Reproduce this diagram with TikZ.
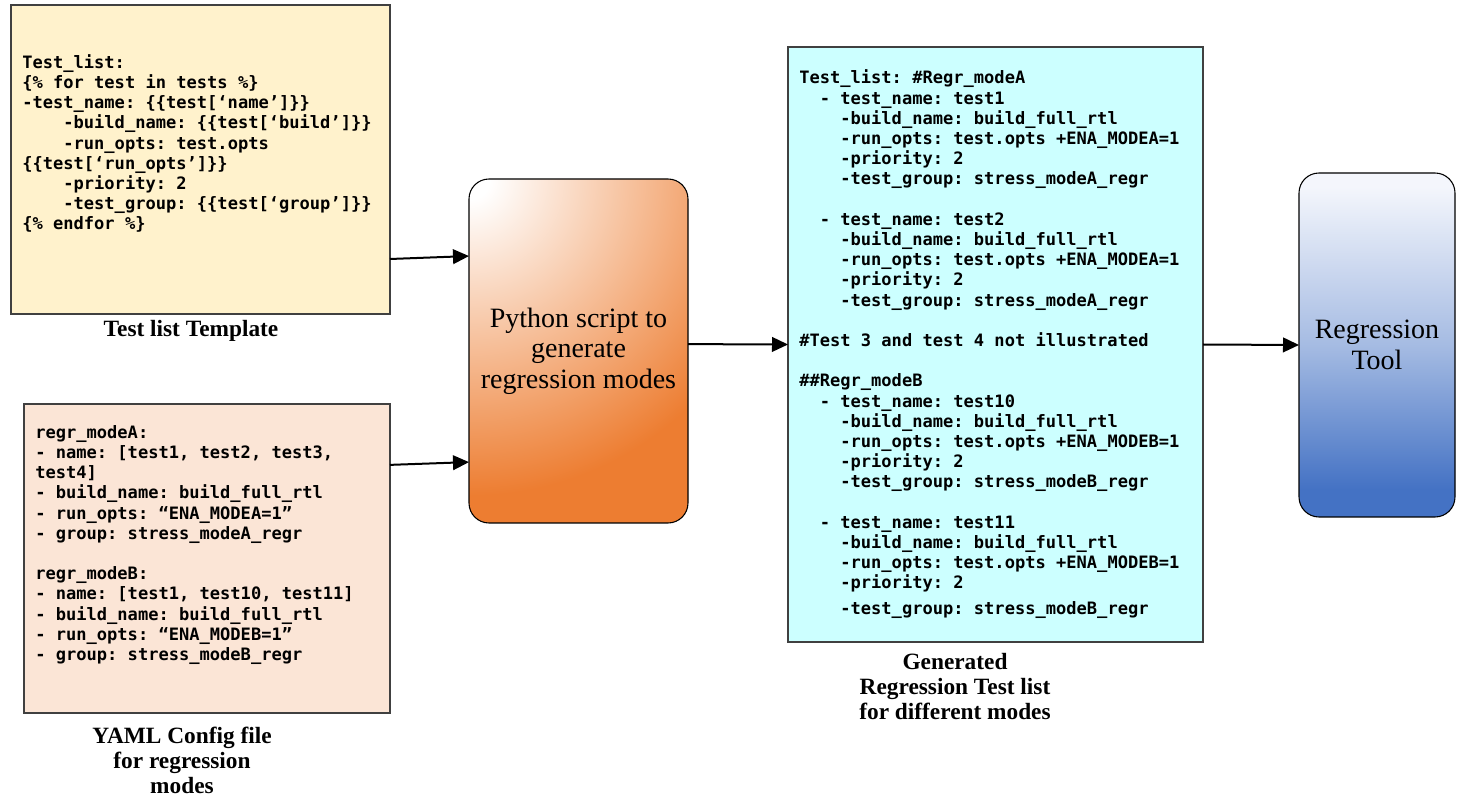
\documentclass[tikz,border=0pt]{standalone}
\usepackage{fontspec}
\setmainfont{Liberation Serif}
\newfontfamily\codefont{DejaVu Sans Mono}
\usetikzlibrary{arrows.meta,calc}
\definecolor{tmplfill}{HTML}{FFF2CC}
\definecolor{yamlfill}{HTML}{FBE5D6}
\definecolor{genfill}{HTML}{CCFFFF}
\definecolor{pyorange}{HTML}{ED7D31}
\definecolor{regblue}{HTML}{4472C4}
\definecolor{regtop}{HTML}{F4F6FC}
\definecolor{boxline}{HTML}{404040}
% the shaded path fills the central 50bp x 50bp square of a shading
\pgfdeclareradialshading{pyshade}{\pgfpoint{0bp}{0bp}}{color(0bp)=(white); color(1.5bp)=(white); color(23bp)=(pyorange); color(100bp)=(pyorange)}
\pgfdeclareverticalshading{regshade}{100bp}{color(0bp)=(regblue); color(29bp)=(regblue); color(50bp)=(regblue!48!white); color(73bp)=(regtop); color(100bp)=(regtop)}
\newcommand{\ind}[1]{\hspace*{#1\fontcharwd\font`\x}}
\begin{document}
\begin{tikzpicture}[x=0.75pt,y=-0.75pt,
  filebox/.style={draw=boxline, line width=0.9pt, inner sep=0pt, outer sep=0pt},
  codetext/.style={anchor=base west, align=left, inner sep=0pt,
    font=\codefont\bfseries\fontsize{12.8}{15.15}\selectfont\frenchspacing},
  caption/.style={anchor=base, align=center, inner sep=0pt,
    font=\bfseries\fontsize{17.5}{18.75}\selectfont},
  procbox/.style={draw=black, line width=0.8pt, rounded corners=15pt, inner sep=0pt,
    outer sep=0pt, align=center, font=\fontsize{21}{23}\selectfont},
  arr/.style={-{Triangle[length=12pt,width=11pt]}, line width=1.5pt}]
\useasboundingbox (0,0) rectangle (1461,798);

% Template box (text anchored at the baseline of its last line)
\node[filebox, fill=tmplfill, minimum width=379*0.75pt, minimum height=309*0.75pt] (tmpl) at (200.5,159.5) {};
\node[codetext] (tmpltxt) at (22,230) {Test\_list:\\
\{\% for test in tests \%\}\\
-test\_name: \{\{test[‘name’]\}\}\\
\ind{4}-build\_name: \{\{test[‘build’]\}\}\\
\ind{4}-run\_opts: test.opts\\
\{\{test[‘run\_opts’]\}\}\\
\ind{4}-priority: 2\\
\ind{4}-test\_group: \{\{test[‘group’]\}\}\\
\{\% endfor \%\}};
\node[caption] (tmplcap) at (191,337) {Test list Template};

% YAML box
\node[filebox, fill=yamlfill, minimum width=366*0.75pt, minimum height=309*0.75pt] (yaml) at (207,558.5) {};
\node[codetext] (yamltxt) at (35,660.5) {regr\_modeA:\\
- name: [test1, test2, test3,\\
test4]\\
- build\_name: build\_full\_rtl\\
- run\_opts: “ENA\_MODEA=1”\\
- group: stress\_modeA\_regr\\[15.15pt]
regr\_modeB:\\
- name: [test1, test10, test11]\\
- build\_name: build\_full\_rtl\\
- run\_opts: “ENA\_MODEB=1”\\
- group: stress\_modeB\_regr};
\node[caption] (yamlcap) at (182,793) {YAML Config file\\for regression\\modes};

% Python box: glow centred on its top-left corner
\node[procbox, minimum width=219*0.75pt, minimum height=344*0.75pt,
  path picture={\shade[shading=pyshade]
    ([shift={(-344,-344)}]path picture bounding box.north west) rectangle
    ([shift={(344,344)}]path picture bounding box.north west);}] (py) at (578.5,351)
  {Python script to\\generate\\regression modes};

% Generated box
\node[filebox, fill=genfill, minimum width=415*0.75pt, minimum height=595*0.75pt] (gen) at (995.5,344.5) {};
\node[codetext] (gentxt) at (799,614.5) {Test\_list: \#Regr\_modeA\\
\ind{2}- test\_name: test1\\
\ind{4}-build\_name: build\_full\_rtl\\
\ind{4}-run\_opts: test.opts +ENA\_MODEA=1\\
\ind{4}-priority: 2\\
\ind{4}-test\_group: stress\_modeA\_regr\\[15.15pt]
\ind{2}- test\_name: test2\\
\ind{4}-build\_name: build\_full\_rtl\\
\ind{4}-run\_opts: test.opts +ENA\_MODEA=1\\
\ind{4}-priority: 2\\
\ind{4}-test\_group: stress\_modeA\_regr\\[15.15pt]
\#Test 3 and test 4 not illustrated\\[15.15pt]
\#\#Regr\_modeB\\
\ind{2}- test\_name: test10\\
\ind{4}-build\_name: build\_full\_rtl\\
\ind{4}-run\_opts: test.opts +ENA\_MODEB=1\\
\ind{4}-priority: 2\\
\ind{4}-test\_group: stress\_modeB\_regr\\[15.15pt]
\ind{2}- test\_name: test11\\
\ind{4}-build\_name: build\_full\_rtl\\
\ind{4}-run\_opts: test.opts +ENA\_MODEB=1\\
\ind{4}-priority: 2\\[4pt]
\ind{4}-test\_group: stress\_modeB\_regr};
\node[caption] (gencap) at (955,719) {Generated\\Regression Test list\\for different modes};

% Regression tool
\node[procbox, shading=regshade, minimum width=156*0.75pt, minimum height=344*0.75pt] (reg) at (1377,345) {Regression\\Tool};

% Connectors
\draw[arr] ($(tmpl.north east)!0.822!(tmpl.south east)$) -- ($(py.north west)!0.224!(py.south west)$);
\draw[arr] ($(yaml.north east)!0.197!(yaml.south east)$) -- ($(py.north west)!0.823!(py.south west)$);
\draw[arr] ($(py.north east)!0.48!(py.south east)$) -- (gen.west);
\draw[arr] (gen.east) -- (reg.west);
\end{tikzpicture}
\end{document}
